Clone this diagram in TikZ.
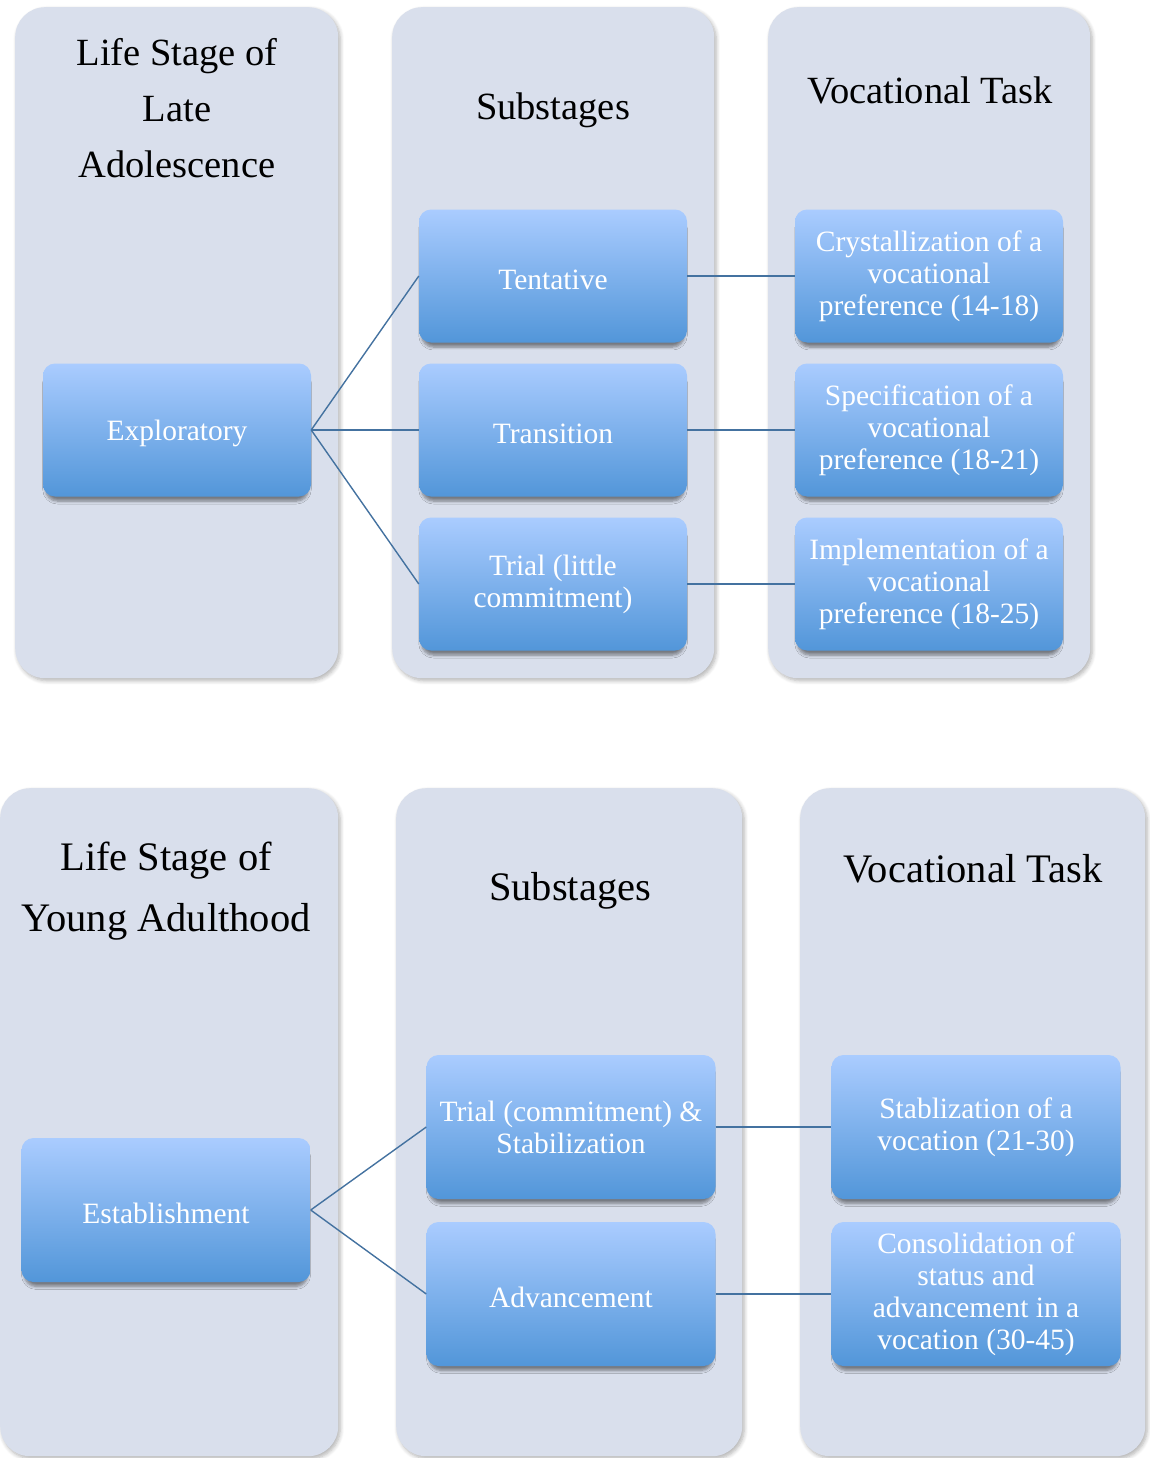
\documentclass[tikz,border=0pt]{standalone}
\usepackage{fontspec}
\setmainfont{Liberation Serif}
\usetikzlibrary{shadows,shadows.blur}
\definecolor{colbg}{RGB}{217,223,236}
\definecolor{ntop}{RGB}{170,204,255}
\definecolor{nbot}{RGB}{82,150,217}
\definecolor{conn}{RGB}{68,114,160}
\begin{document}
\begin{tikzpicture}[x=1pt,y=-1pt,
  colbox/.style={fill=colbg, rounded corners=30pt, inner sep=0pt, anchor=north west,
    blur shadow={shadow xshift=2pt, shadow yshift=-2.5pt, shadow blur radius=4pt,
      shadow blur steps=6, shadow opacity=30}},
  stepnode/.style={rounded corners=12pt, top color=ntop, bottom color=nbot, text=white,
    align=center, inner sep=0pt, minimum width=268pt, minimum height=133pt,
    font=\fontsize{29.5}{32}\selectfont,
    execute at begin node={\rule{0pt}{28pt}},
    blur shadow={shadow xshift=0pt, shadow yshift=-6pt, shadow scale=0.98,
      shadow blur radius=3pt, shadow blur steps=6, shadow opacity=45}},
  bigstep/.style={stepnode, minimum width=289pt, minimum height=144pt},
  titleA/.style={align=center, font=\fontsize{38.5}{56}\selectfont},
  titleB/.style={align=center, font=\fontsize{40.5}{61}\selectfont},
  link/.style={draw=conn, line width=1.4pt}]
\useasboundingbox (0,0) rectangle (1149,1458);

% ---------- top section ----------
\node[colbox, minimum width=323pt, minimum height=671pt] (ca) at (15,7) {};
\node[colbox, minimum width=322pt, minimum height=671pt] (cb) at (392,7) {};
\node[colbox, minimum width=322pt, minimum height=671pt] (cc) at (768,7) {};

\node[titleA] (ta) at (177,108) {Life Stage of\\Late\\Adolescence};
\node[titleA] (tb) at (553,110) {Substages};
\node[titleA] (tc) at (930,90) {Vocational Task};

\node[stepnode] (expl) at (177,430) {Exploratory};
\node[stepnode] (tent) at (553,276) {Tentative};
\node[stepnode] (tran) at (553,430) {Transition};
\node[stepnode] (tria) at (553,584) {Trial (little\\commitment)};
\node[stepnode] (crys) at (929,276) {Crystallization of a\\vocational\\preference (14-18)};
\node[stepnode] (spec) at (929,430) {Specification of a\\vocational\\preference (18-21)};
\node[stepnode] (impl) at (929,584) {Implementation of a\\vocational\\preference (18-25)};

\draw[link] (expl.east) -- (tent.west);
\draw[link] (expl.east) -- (tran.west);
\draw[link] (expl.east) -- (tria.west);
\draw[link] (tent.east) -- (crys.west);
\draw[link] (tran.east) -- (spec.west);
\draw[link] (tria.east) -- (impl.west);

% ---------- bottom section ----------
\node[colbox, minimum width=338pt, minimum height=668pt] (cd) at (0,788) {};
\node[colbox, minimum width=346pt, minimum height=668pt] (ce) at (396,788) {};
\node[colbox, minimum width=345pt, minimum height=668pt] (cf) at (800,788) {};

\node[titleB] (td) at (166,891) {Life Stage of\\Young Adulthood};
\node[titleB] (te) at (570,891) {Substages};
\node[titleB] (tf) at (973,869) {Vocational Task};

\node[bigstep] (esta) at (166,1210) {Establishment};
\node[bigstep] (trc) at (571,1127) {Trial (commitment) \&\\Stabilization};
\node[bigstep] (adv) at (571,1294) {Advancement};
\node[bigstep] (stab) at (976,1127) {Stablization of a\\vocation (21-30)};
\node[bigstep] (cons) at (976,1294) {Consolidation of\\status and\\advancement in a\\vocation (30-45)};

\draw[link] (esta.east) -- (trc.west);
\draw[link] (esta.east) -- (adv.west);
\draw[link] (trc.east) -- (stab.west);
\draw[link] (adv.east) -- (cons.west);
\end{tikzpicture}
\end{document}
